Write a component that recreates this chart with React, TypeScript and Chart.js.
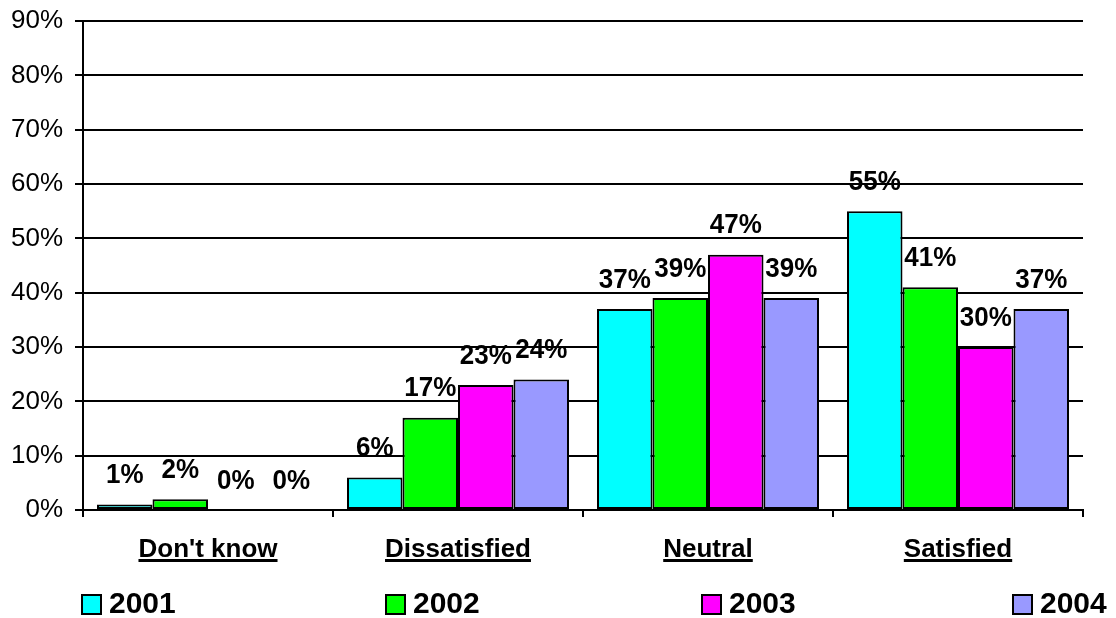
import React, { useEffect, useRef } from "react";
import { Chart, registerables } from "chart.js";

Chart.register(...registerables);

const categories = ["Don't know", "Dissatisfied", "Neutral", "Satisfied"];
const seriesNames = ["2001", "2002", "2003", "2004"];
const values2001 = [1, 6, 37, 55];
const values2002 = [2, 17, 39, 41];
const values2003 = [0, 23, 47, 30];
const values2004 = [0, 24, 39, 37];
const seriesColors = ["#00FFFF", "#00FF00", "#FF00FF", "#9999FF"];
const yMax = 90;
const yStep = 10;

const FONT = "'Liberation Sans', Arial, sans-serif";

const legendX = [81, 385, 701, 1012];

const customDraw = {
  id: "customDraw",
  afterDatasetsDraw(chart: any) {
    const ctx = chart.ctx;
    ctx.save();
    ctx.fillStyle = "#000";
    ctx.font = `bold 26px ${FONT}`;
    ctx.textAlign = "center";
    ctx.textBaseline = "middle";
    chart.data.datasets.forEach((ds: any, di: number) => {
      const meta = chart.getDatasetMeta(di);
      meta.data.forEach((el: any, i: number) => {
        const tx = el.x;
        const ty = el.y - 29;
        ctx.save();
        ctx.translate(tx, ty);
        ctx.scale(1, 1.08);
        ctx.fillText(ds.data[i] + "%", 0, 0);
        ctx.restore();
      });
    });
    ctx.restore();
  },
  afterDraw(chart: any) {
    const ctx = chart.ctx;
    const xs = chart.scales.x;
    ctx.save();
    ctx.fillStyle = "#000";
    ctx.strokeStyle = "#000";
    ctx.font = `bold 26px ${FONT}`;
    ctx.textAlign = "center";
    ctx.textBaseline = "alphabetic";
    categories.forEach((c, i) => {
      const x = xs.getPixelForValue(i);
      const y = 557;
      ctx.fillText(c, x, y);
      const w = ctx.measureText(c).width;
      ctx.lineWidth = 3;
      ctx.beginPath();
      ctx.moveTo(x - w / 2, y + 3.5);
      ctx.lineTo(x + w / 2, y + 3.5);
      ctx.stroke();
    });
    // legend
    ctx.font = `bold 30px ${FONT}`;
    ctx.textAlign = "left";
    ctx.textBaseline = "middle";
    seriesNames.forEach((n, i) => {
      const x = legendX[i];
      const y = 604;
      ctx.fillStyle = seriesColors[i];
      ctx.fillRect(x + 1, y - 9, 19, 19);
      ctx.lineWidth = 2;
      ctx.strokeStyle = "#000";
      ctx.strokeRect(x + 1, y - 9, 19, 19);
      ctx.fillStyle = "#000";
      ctx.fillText(n, x + 28, y + 1);
    });
    ctx.restore();
  },
};

export default function App() {
  const ref = useRef<HTMLCanvasElement>(null);
  useEffect(() => {
    if (!ref.current) return;
    const allValues = [values2001, values2002, values2003, values2004];
    const chart = new Chart(ref.current, {
      type: "bar",
      data: {
        labels: categories,
        datasets: seriesNames.map((n, i) => ({
          label: n,
          data: allValues[i],
          backgroundColor: seriesColors[i],
          borderColor: "#000",
          borderWidth: 2,
          borderSkipped: false,
          categoryPercentage: 0.888,
          barPercentage: 1,
        })),
      },
      options: {
        responsive: false,
        animation: false,
        devicePixelRatio: 1,
        layout: { padding: { top: 21, right: 33, left: 0, bottom: 0 } },
        plugins: {
          legend: { display: false },
          tooltip: { enabled: false },
        },
        scales: {
          x: {
            afterFit(scale: any) {
              scale.height = 108;
              scale.paddingLeft = 0;
              scale.paddingRight = 0;
            },
            border: { display: true, color: "#000", width: 2 },
            grid: {
              display: true,
              offset: true,
              drawOnChartArea: false,
              drawTicks: true,
              tickLength: 7,
              color: "#000",
              lineWidth: 2,
            },
            ticks: { display: false },
          },
          y: {
            min: 0,
            max: yMax,
            afterFit(scale: any) {
              scale.width = 83;
              scale.paddingTop = 0;
              scale.paddingBottom = 0;
            },
            border: { display: true, color: "#000", width: 2 },
            grid: {
              color: "#000",
              lineWidth: 2,
              tickLength: 8,
            },
            ticks: {
              stepSize: yStep,
              color: "#000",
              padding: 12,
              font: { family: FONT, size: 26 },
              callback: (v: any) => v + "%",
            },
          },
        },
      },
      plugins: [customDraw],
    });
    return () => chart.destroy();
  }, []);
  return (
    <div style={{ position: "fixed", left: 0, top: 0, width: 1116, height: 618, background: "#fff" }}>
      <canvas ref={ref} width={1116} height={618} style={{ display: "block" }} />
    </div>
  );
}
